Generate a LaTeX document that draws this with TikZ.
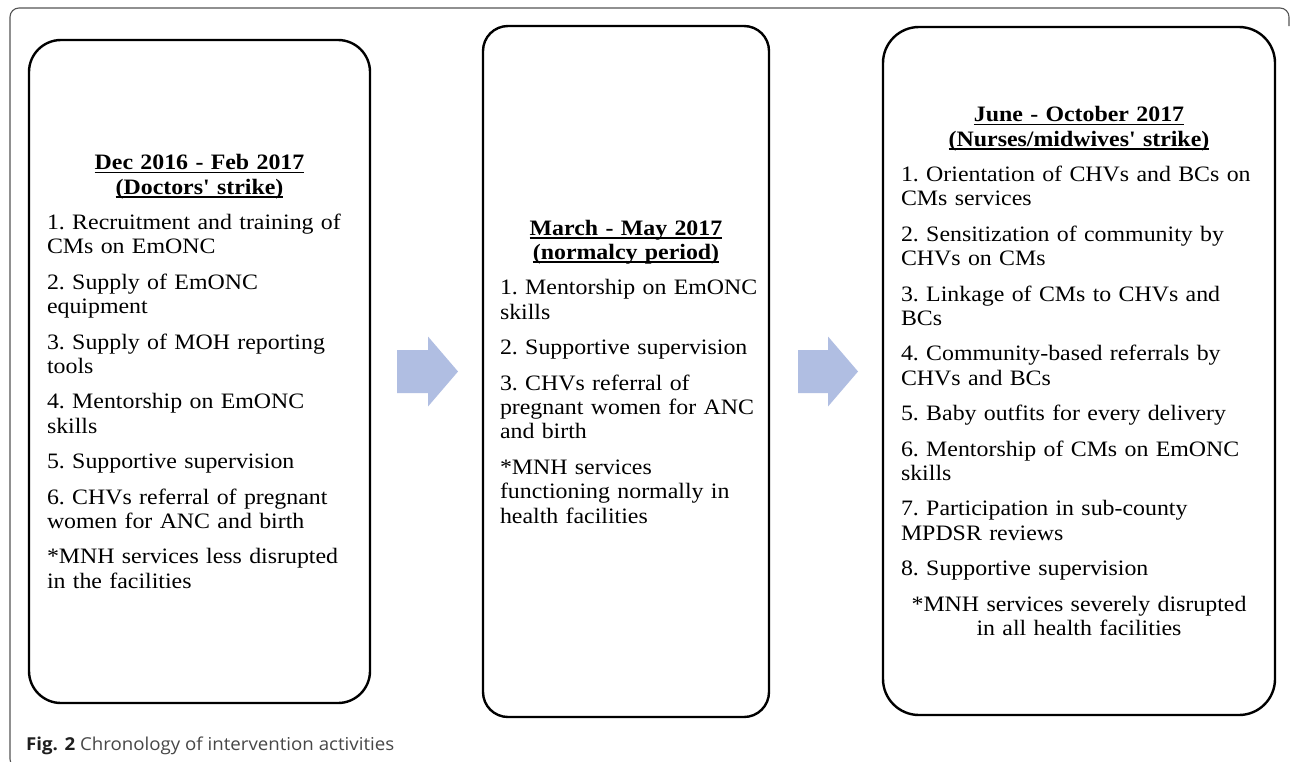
\documentclass[tikz,border=0pt]{standalone}
\usepackage{fontspec}
\newfontfamily\boxfont{Liberation Serif}[FakeStretch=1.085]
\newfontfamily\capfont{Open Sans}[FakeStretch=1.05]
\definecolor{arrowfill}{RGB}{176,190,226}
\definecolor{framegray}{RGB}{85,85,85}
\newsavebox\hdrbox
\newcommand\hdr[1]{\leavevmode\sbox\hdrbox{\bfseries #1}\rlap{\rule[-3.6pt]{\wd\hdrbox}{1.6pt}}\usebox\hdrbox}
\newcommand\phasesetup{\frenchspacing\parindent=0pt\parskip=11pt plus 0pt}
\newcommand\nb[1]{\mbox{#1}}
\tikzset{
  phase/.style={draw, line width=2.4pt, inner sep=0pt,
    font=\boxfont\fontsize{22}{24.4}\selectfont},
  blockarrow/.style={fill=arrowfill, draw=none},
  outerframe/.style={draw=framegray, line width=1.1pt, rounded corners=9pt}
}
\begin{document}
\begin{tikzpicture}[x=1pt,y=-1pt]
\useasboundingbox (0,0) rectangle (1290,761);
\fill[white] (0,0) rectangle (1290,761);
% outer frame (open bracket)
\draw[outerframe] (1289,26) -- (1289,8) -- (10,8) -- (10,768) -- (40,768);

% phase boxes
\node[phase, rounded corners=32pt, minimum width=341pt, minimum height=663pt, text width=305pt] (b1) at (199.5,371.5)
{\phasesetup\centering\hdr{Dec 2016 - Feb 2017}\\\hdr{(Doctors' strike)}\par
\raggedright
\nb{1. Recruitment and training of}\\CMs on EmONC\par
2. Supply of EmONC\\equipment\par
\nb{3. Supply of MOH reporting}\\tools\par
4. Mentorship on EmONC\\skills\par
5. Supportive supervision\par
\nb{6. CHVs referral of pregnant}\\\nb{women for ANC and birth}\par
\nb{*MNH services less disrupted}\\in the facilities\par};

\node[phase, rounded corners=25pt, minimum width=286pt, minimum height=691pt, text width=252pt] (b2) at (626,371.5)
{\phasesetup\centering\hdr{March - May 2017}\\\hdr{(normalcy period)}\par
\raggedright
\nb{1. Mentorship on EmONC}\\skills\par
\nb{2. Supportive supervision}\par
3. CHVs referral of\\\nb{pregnant women for ANC}\\and birth\par
*MNH services\\\nb{functioning normally in}\\health facilities\par};

\node[phase, rounded corners=36pt, minimum width=392pt, minimum height=688pt, text width=356pt] (b3) at (1079,371)
{\phasesetup\centering\hdr{June - October 2017}\\\hdr{(Nurses/midwives' strike)}\par
\raggedright
\nb{1. Orientation of CHVs and BCs on}\\CMs services\par
\nb{2. Sensitization of community by}\\CHVs on CMs\par
\nb{3. Linkage of CMs to CHVs and}\\BCs\par
\nb{4. Community-based referrals by}\\CHVs and BCs\par
\nb{5. Baby outfits for every delivery}\par
\nb{6. Mentorship of CMs on EmONC}\\skills\par
\nb{7. Participation in sub-county}\\MPDSR reviews\par
8. Supportive supervision\par
\centering \nb{*MNH services severely disrupted}\\in all health facilities\par};

% block arrows
\coordinate (a1) at (397,371.5);
\coordinate (a2) at (798,371.5);
\fill[blockarrow] (a1) ++(0,-21.5) -- ++(31,0) -- ++(0,-13.5) -- ++(30,35) -- ++(-30,35) -- ++(0,-13.5) -- ++(-31,0) -- cycle;
\fill[blockarrow] (a2) ++(0,-21.5) -- ++(30,0) -- ++(0,-13.5) -- ++(30,35) -- ++(-30,35) -- ++(0,-13.5) -- ++(-30,0) -- cycle;

% caption
\node[anchor=base west, inner sep=0pt, font=\capfont\fontsize{17.8}{21}\selectfont, text=black!72] (cap) at (26,750)
{\textcolor{black!88}{\bfseries Fig. 2} Chronology of intervention activities};
\end{tikzpicture}
\end{document}
